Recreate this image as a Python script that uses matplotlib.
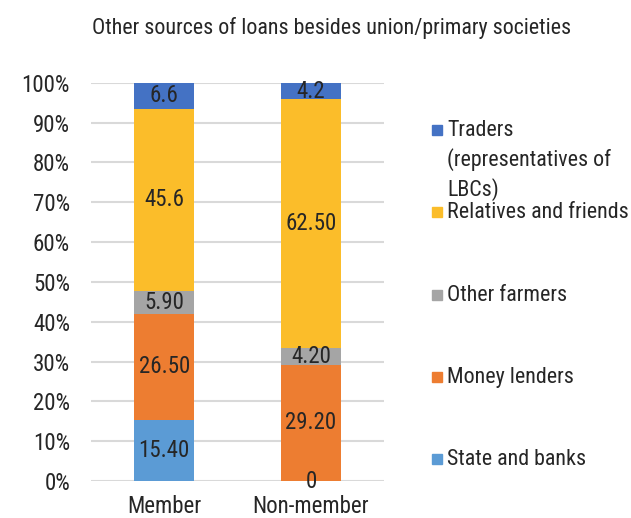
import numpy as np
import matplotlib.pyplot as plt
from matplotlib.patches import Rectangle
from matplotlib.ticker import PercentFormatter

plt.rcParams['font.family'] = ['Roboto Condensed', 'DejaVu Sans']

categories = ['Member', 'Non-member']
series = ['State and banks', 'Money lenders', 'Other farmers',
          'Relatives and friends', 'Traders\n(representatives of\nLBCs)']
values = [
    [15.40, 0.0],    # State and banks
    [26.50, 29.20],  # Money lenders
    [5.90, 4.20],    # Other farmers
    [45.6, 62.50],   # Relatives and friends
    [6.6, 4.2],      # Traders
]
labels = [
    ['15.40', '0'],
    ['26.50', '29.20'],
    ['5.90', '4.20'],
    ['45.6', '62.50'],
    ['6.6', '4.2'],
]
colors = ['#5B9BD5', '#ED7D31', '#A5A5A5', '#FBBD2A', '#4472C4']

txt = '#262626'
fig = plt.figure(figsize=(6.31, 5.18), dpi=100)
ax = fig.add_axes([0.144, 0.0714, 0.465, 0.769])

vals = np.array(values)
totals = vals.sum(axis=0)
shares = vals / totals
x = np.arange(len(categories))
bottom = np.zeros(len(categories))
for i in range(len(series)):
    bars = ax.bar(x, shares[i], 0.41, bottom=bottom, color=colors[i], zorder=2)
    ax.bar_label(bars, labels=labels[i], label_type='center', fontsize=16.5, color=txt)
    bottom += shares[i]

ax.set_xlim(-0.5, 1.5)
ax.set_ylim(0, 1)
ax.set_yticks(np.arange(0, 1.01, 0.1))
ax.yaxis.set_major_formatter(PercentFormatter(1.0, decimals=0))
ax.set_xticks(x)
ax.set_xticklabels(categories)
ax.tick_params(axis='y', length=0, pad=15, labelsize=16.5, labelcolor=txt)
ax.tick_params(axis='x', length=0, pad=10, labelsize=16.5, labelcolor=txt)
ax.grid(axis='y', color='#D9D9D9', linewidth=1.5, zorder=0)
for s in ax.spines.values():
    s.set_visible(False)

fig.text(0.525, 0.945, 'Other sources of loans besides union/primary societies',
         ha='center', va='center', fontsize=15.8, color=txt)

# legend, drawn top to bottom in reverse series order
leg_y = [130, 212, 295, 377, 459]
for k, i in enumerate(reversed(range(len(series)))):
    yy = 1 - leg_y[k] / 518
    fig.patches.append(Rectangle((432 / 631, yy - 5 / 518), 10 / 631, 10 / 518,
                                 transform=fig.transFigure, color=colors[i]))
    fig.text(447 / 631, yy + 10 / 518, series[i], ha='left', va='top',
             fontsize=15.8, color=txt, linespacing=1.38)

fig.savefig('out.png', dpi=100)
